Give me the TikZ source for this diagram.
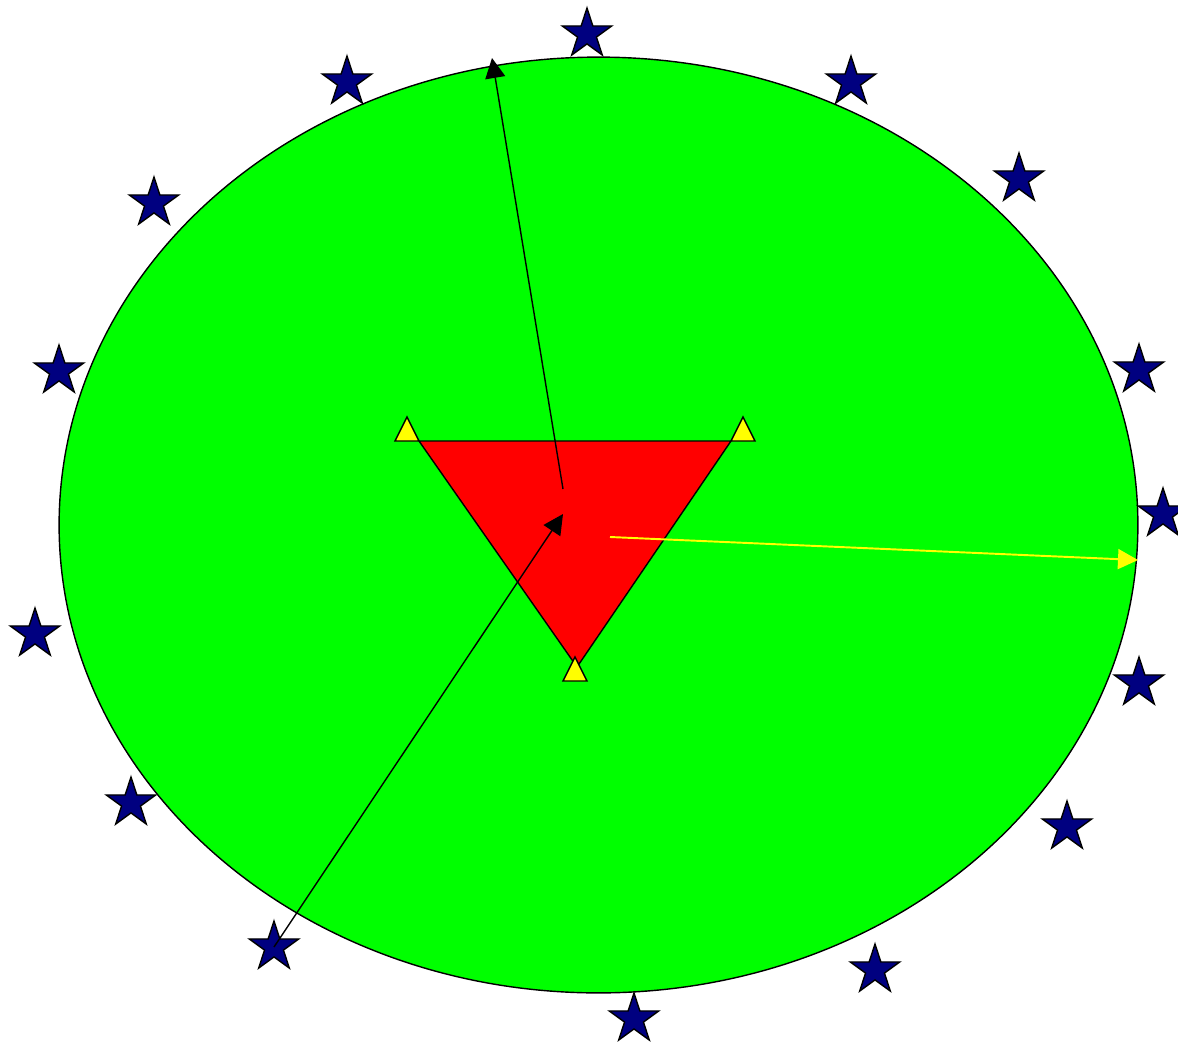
\documentclass[tikz,border=0pt]{standalone}
\usetikzlibrary{shapes.geometric,arrows.meta}
\definecolor{fieldGreen}{RGB}{0,255,0}
\definecolor{zoneRed}{RGB}{255,0,0}
\definecolor{markYellow}{RGB}{255,255,0}
\definecolor{starNavy}{RGB}{0,0,128}
\begin{document}
\begin{tikzpicture}[x=0.02cm,y=-0.02cm,
    starmark/.style={star, star points=5, star point ratio=2.618, minimum size=1.04cm,
      inner sep=0pt, draw=black, fill=starNavy, line width=0.8pt},
    vertexmark/.style={draw=black, fill=markYellow, line width=0.8pt},
    ptr/.style={-{Triangle[length=0.4cm,width=0.4cm]}, line width=0.8pt}]
      \useasboundingbox (0,0) rectangle (1178,1042);
      \node[ellipse, draw, fill=fieldGreen, line width=0.8pt,
        minimum width=21.58cm, minimum height=18.72cm] (field) at (598.5,525) {};
      % red zone
      \coordinate (tl) at (419,441);
      \coordinate (tr) at (731,441);
      \coordinate (tb) at (577,667);
      \draw[fill=zoneRed, line width=0.8pt] (tl) -- (tr) -- (tb) -- cycle;
      \foreach \mx/\my in {407/441, 743/441, 575/681}
        \draw[vertexmark] (\mx-12,\my) -- (\mx+12,\my) -- (\mx,\my-24) -- cycle;
      % stars round the field
      \foreach \sx/\sy [count=\i] in {587/34, 347/82, 851/82, 154/203, 1019/179,
          59/371, 1139/370, 1163/514, 35/634, 1139/683, 131/803, 1067/827,
          274/947, 875/970, 634/1019}
        \node[starmark] (s\i) at (\sx,\sy) {};
      % pointers
      \coordinate (c1) at (563,489);
      \coordinate (h1) at (492,58);
      \coordinate (h2) at (563,514);
      \coordinate (c3) at (610,537);
      \coordinate (h3) at (1138,560);
      \draw[ptr] (c1) -- (h1);
      \draw[ptr] (s13.center) -- (h2);
      \draw[ptr, draw=markYellow, fill=markYellow, line width=1.1pt] (c3) -- (h3);
    \end{tikzpicture}
\end{document}
